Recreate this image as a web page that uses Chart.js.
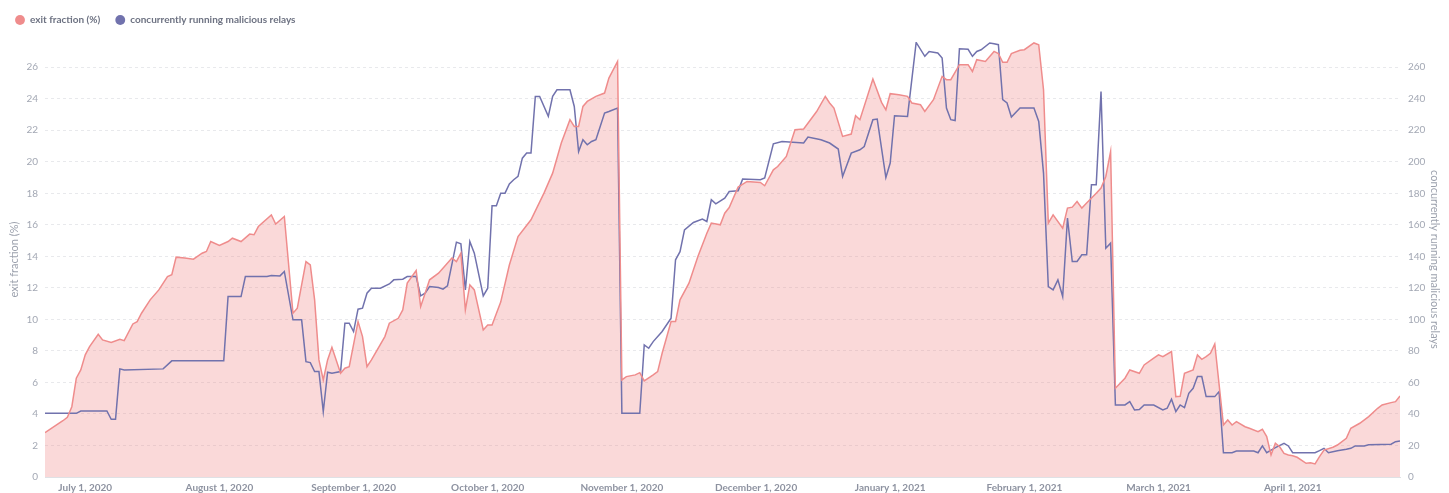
<!DOCTYPE html>
<html>
<head>
<meta charset="utf-8">
<script src="https://cdn.jsdelivr.net/npm/chart.js@4.4.1/dist/chart.umd.min.js"></script>
<style>
  html, body { margin: 0; padding: 0; background: #fff; }
</style>
</head>
<body>
<canvas id="chart" width="1449" height="493"></canvas>
<script>
// exit fraction (%) per day
const exitDates = [
  '2020-06-22', '2020-06-24', '2020-06-26', '2020-06-27', '2020-06-28', '2020-06-29', '2020-06-30',
  '2020-07-01', '2020-07-02', '2020-07-04', '2020-07-05', '2020-07-07', '2020-07-09', '2020-07-10',
  '2020-07-12', '2020-07-13', '2020-07-14', '2020-07-16', '2020-07-18', '2020-07-20', '2020-07-21',
  '2020-07-22', '2020-07-24', '2020-07-26', '2020-07-28', '2020-07-29', '2020-07-30', '2020-08-01',
  '2020-08-03', '2020-08-04', '2020-08-06', '2020-08-08', '2020-08-09', '2020-08-10', '2020-08-13',
  '2020-08-14', '2020-08-16', '2020-08-18', '2020-08-19', '2020-08-21', '2020-08-22', '2020-08-23',
  '2020-08-24', '2020-08-25', '2020-08-26', '2020-08-27', '2020-08-29', '2020-08-30', '2020-08-31',
  '2020-09-02', '2020-09-03', '2020-09-04', '2020-09-05', '2020-09-08', '2020-09-09', '2020-09-11',
  '2020-09-12', '2020-09-13', '2020-09-15', '2020-09-16', '2020-09-17', '2020-09-18', '2020-09-20',
  '2020-09-23', '2020-09-24', '2020-09-25', '2020-09-26', '2020-09-27', '2020-09-28', '2020-09-30',
  '2020-10-01', '2020-10-02', '2020-10-04', '2020-10-06', '2020-10-08', '2020-10-11', '2020-10-14',
  '2020-10-16', '2020-10-18', '2020-10-20', '2020-10-21', '2020-10-22', '2020-10-23', '2020-10-24',
  '2020-10-26', '2020-10-28', '2020-10-29', '2020-10-31', '2020-11-01', '2020-11-02', '2020-11-04',
  '2020-11-05', '2020-11-06', '2020-11-08', '2020-11-09', '2020-11-10', '2020-11-12', '2020-11-13',
  '2020-11-14', '2020-11-16', '2020-11-18', '2020-11-20', '2020-11-21', '2020-11-23', '2020-11-24',
  '2020-11-25', '2020-11-27', '2020-11-29', '2020-12-02', '2020-12-03', '2020-12-05', '2020-12-06',
  '2020-12-08', '2020-12-10', '2020-12-12', '2020-12-15', '2020-12-17', '2020-12-18', '2020-12-19',
  '2020-12-21', '2020-12-23', '2020-12-24', '2020-12-25', '2020-12-28', '2020-12-30', '2020-12-31',
  '2021-01-01', '2021-01-03', '2021-01-05', '2021-01-06', '2021-01-08', '2021-01-09', '2021-01-11',
  '2021-01-13', '2021-01-14', '2021-01-15', '2021-01-17', '2021-01-19', '2021-01-20', '2021-01-21',
  '2021-01-23', '2021-01-25', '2021-01-26', '2021-01-27', '2021-01-28', '2021-01-29', '2021-01-31',
  '2021-02-01', '2021-02-03', '2021-02-04', '2021-02-05', '2021-02-06', '2021-02-07', '2021-02-09',
  '2021-02-10', '2021-02-11', '2021-02-12', '2021-02-13', '2021-02-14', '2021-02-16', '2021-02-17',
  '2021-02-18', '2021-02-19', '2021-02-20', '2021-02-22', '2021-02-23', '2021-02-25', '2021-02-26',
  '2021-02-28', '2021-03-01', '2021-03-02', '2021-03-04', '2021-03-05', '2021-03-06', '2021-03-07',
  '2021-03-09', '2021-03-10', '2021-03-11', '2021-03-12', '2021-03-13', '2021-03-14', '2021-03-16',
  '2021-03-17', '2021-03-18', '2021-03-19', '2021-03-21', '2021-03-22', '2021-03-24', '2021-03-25',
  '2021-03-26', '2021-03-27', '2021-03-28', '2021-03-29', '2021-03-30', '2021-03-31', '2021-04-01',
  '2021-04-02', '2021-04-04', '2021-04-05', '2021-04-06', '2021-04-07', '2021-04-08', '2021-04-10',
  '2021-04-11', '2021-04-13', '2021-04-14', '2021-04-16', '2021-04-18', '2021-04-20', '2021-04-21',
  '2021-04-23', '2021-04-24', '2021-04-25'
];
const exitFraction = [
  2.81, 3.19, 3.57, 3.79, 4.46, 6.27, 6.79,
  7.75, 8.27, 9.06, 8.70, 8.53, 8.74, 8.65,
  9.71, 9.86, 10.39, 11.24, 11.87, 12.72, 12.83,
  13.95, 13.89, 13.82, 14.20, 14.31, 14.94, 14.69,
  14.94, 15.15, 14.94, 15.41, 15.37, 15.89, 16.63,
  16.05, 16.53, 10.39, 10.71, 13.67, 13.46, 11.24,
  7.43, 6.16, 7.43, 8.23, 6.58, 6.90, 7.00,
  9.86, 8.91, 7.00, 7.43, 8.91, 9.76, 10.07,
  10.60, 12.30, 13.10, 10.81, 11.66, 12.51, 12.93,
  13.89, 13.67, 14.20, 10.60, 12.19, 11.87, 9.33,
  9.65, 9.65, 11.10, 13.45, 15.26, 16.32, 18.01,
  19.28, 21.19, 22.67, 22.24, 22.24, 23.51, 23.83,
  24.15, 24.36, 25.31, 26.37, 6.16, 6.37, 6.48,
  6.62, 6.10, 6.48, 6.69, 7.85, 9.86, 9.86,
  11.24, 12.30, 13.99, 15.47, 16.11, 16.00, 16.74,
  17.10, 18.40, 18.75, 18.69, 18.48, 19.49, 19.70,
  20.34, 22.03, 22.08, 23.19, 24.15, 23.73, 23.41,
  21.61, 21.76, 22.92, 22.67, 25.25, 23.77, 23.30,
  24.32, 24.25, 24.15, 23.73, 23.62, 23.19, 23.94,
  25.42, 25.21, 25.21, 26.16, 26.16, 25.73, 26.48,
  26.37, 27.00, 26.86, 26.31, 26.31, 26.86, 27.07,
  27.11, 27.54, 27.43, 24.57, 16.11, 16.63, 15.79,
  17.06, 17.12, 17.48, 17.06, 17.38, 18.01, 18.33,
  19.07, 20.65, 5.63, 6.27, 6.79, 6.58, 7.11,
  7.54, 7.75, 7.64, 7.96, 5.10, 5.12, 6.58,
  6.80, 7.75, 7.47, 7.64, 7.85, 8.44, 3.30,
  3.62, 3.30, 3.51, 3.19, 3.09, 2.88, 3.03,
  2.56, 1.40, 2.14, 1.92, 1.50, 1.40, 1.35,
  1.25, 0.87, 0.91, 0.83, 1.29, 1.71, 1.89,
  2.03, 2.46, 3.09, 3.41, 3.83, 4.36, 4.57,
  4.72, 4.78, 5.14
];

// concurrently running malicious relays
const relayDates = [
  '2020-06-22', '2020-06-29', '2020-06-30', '2020-07-06', '2020-07-07', '2020-07-08', '2020-07-09',
  '2020-07-10', '2020-07-19', '2020-07-21', '2020-08-02', '2020-08-03', '2020-08-06', '2020-08-07',
  '2020-08-12', '2020-08-13', '2020-08-15', '2020-08-16', '2020-08-18', '2020-08-20', '2020-08-21',
  '2020-08-22', '2020-08-23', '2020-08-24', '2020-08-25', '2020-08-26', '2020-08-27', '2020-08-29',
  '2020-08-30', '2020-08-31', '2020-09-01', '2020-09-02', '2020-09-03', '2020-09-04', '2020-09-05',
  '2020-09-07', '2020-09-09', '2020-09-10', '2020-09-12', '2020-09-13', '2020-09-15', '2020-09-16',
  '2020-09-17', '2020-09-18', '2020-09-20', '2020-09-21', '2020-09-22', '2020-09-24', '2020-09-25',
  '2020-09-26', '2020-09-27', '2020-09-28', '2020-09-30', '2020-10-01', '2020-10-02', '2020-10-03',
  '2020-10-04', '2020-10-05', '2020-10-06', '2020-10-07', '2020-10-08', '2020-10-09', '2020-10-10',
  '2020-10-11', '2020-10-12', '2020-10-13', '2020-10-15', '2020-10-16', '2020-10-17', '2020-10-20',
  '2020-10-21', '2020-10-22', '2020-10-23', '2020-10-24', '2020-10-25', '2020-10-26', '2020-10-28',
  '2020-10-29', '2020-10-31', '2020-11-01', '2020-11-05', '2020-11-06', '2020-11-07', '2020-11-08',
  '2020-11-10', '2020-11-12', '2020-11-13', '2020-11-14', '2020-11-15', '2020-11-17', '2020-11-19',
  '2020-11-20', '2020-11-21', '2020-11-22', '2020-11-24', '2020-11-25', '2020-11-27', '2020-11-28',
  '2020-12-02', '2020-12-03', '2020-12-05', '2020-12-07', '2020-12-12', '2020-12-13', '2020-12-16',
  '2020-12-18', '2020-12-20', '2020-12-21', '2020-12-23', '2020-12-25', '2020-12-26', '2020-12-28',
  '2020-12-29', '2020-12-31', '2021-01-01', '2021-01-02', '2021-01-05', '2021-01-07', '2021-01-09',
  '2021-01-10', '2021-01-12', '2021-01-13', '2021-01-14', '2021-01-15', '2021-01-16', '2021-01-17',
  '2021-01-19', '2021-01-20', '2021-01-21', '2021-01-22', '2021-01-24', '2021-01-25', '2021-01-26',
  '2021-01-27', '2021-01-28', '2021-01-29', '2021-01-31', '2021-02-03', '2021-02-04', '2021-02-05',
  '2021-02-06', '2021-02-07', '2021-02-08', '2021-02-09', '2021-02-10', '2021-02-11', '2021-02-12',
  '2021-02-13', '2021-02-14', '2021-02-15', '2021-02-16', '2021-02-17', '2021-02-18', '2021-02-19',
  '2021-02-20', '2021-02-22', '2021-02-23', '2021-02-24', '2021-02-25', '2021-02-26', '2021-02-28',
  '2021-03-02', '2021-03-03', '2021-03-04', '2021-03-05', '2021-03-06', '2021-03-07', '2021-03-08',
  '2021-03-09', '2021-03-10', '2021-03-11', '2021-03-12', '2021-03-14', '2021-03-15', '2021-03-16',
  '2021-03-18', '2021-03-19', '2021-03-23', '2021-03-24', '2021-03-25', '2021-03-26', '2021-03-27',
  '2021-03-28', '2021-03-30', '2021-03-31', '2021-04-01', '2021-04-06', '2021-04-07', '2021-04-08',
  '2021-04-09', '2021-04-11', '2021-04-13', '2021-04-14', '2021-04-15', '2021-04-17', '2021-04-18',
  '2021-04-23', '2021-04-24', '2021-04-25'
];
const maliciousRelays = [
  40.4, 40.4, 41.9, 41.9, 36.6, 36.6, 68.6,
  67.9, 68.6, 73.7, 73.7, 114.5, 114.5, 127.2,
  127.2, 127.8, 127.6, 130.4, 99.7, 99.7, 73.2,
  72.6, 66.9, 66.9, 41.5, 66.5, 65.8, 66.9,
  97.6, 97.6, 92.3, 106.5, 107.1, 116.6, 119.8,
  119.8, 122.5, 125.1, 125.5, 127.2, 127.2, 114.9,
  116.6, 120.8, 120.2, 119.2, 121.3, 149.0, 147.9,
  118.7, 149.4, 142.0, 114.9, 119.8, 172.1, 172.1,
  180.1, 180.1, 186.0, 188.6, 190.7, 202.3, 205.5,
  205.5, 241.5, 241.5, 228.8, 241.5, 245.7, 245.7,
  235.1, 206.5, 214.0, 210.8, 212.9, 214.0, 230.9,
  231.9, 234.1, 40.4, 40.4, 83.8, 81.7, 85.9,
  92.3, 100.8, 137.8, 143.0, 156.8, 161.5, 163.6,
  162.1, 175.9, 173.3, 176.9, 181.1, 181.6, 189.0,
  188.6, 189.7, 211.4, 212.9, 211.9, 215.7, 214.0,
  211.9, 208.1, 190.7, 205.5, 207.6, 209.7, 226.7,
  227.1, 190.0, 199.2, 229.2, 228.8, 275.7, 266.9,
  270.0, 269.0, 265.8, 234.1, 226.7, 226.2, 271.7,
  271.4, 266.9, 270.0, 271.1, 275.4, 274.9, 274.3,
  239.4, 237.3, 228.4, 234.1, 234.1, 225.6, 192.8,
  120.8, 118.7, 125.1, 114.5, 164.3, 136.7, 136.7,
  141.0, 141.0, 185.4, 185.4, 244.6, 145.2, 148.4,
  45.7, 45.7, 47.8, 42.5, 42.8, 45.7, 45.7,
  42.5, 43.6, 49.3, 41.5, 45.7, 44.0, 53.1,
  56.3, 63.7, 63.7, 51.0, 51.0, 54.2, 15.4,
  15.4, 16.5, 16.5, 15.4, 19.7, 15.4, 17.1,
  18.6, 21.4, 19.7, 15.4, 15.4, 16.7, 18.2,
  15.4, 16.7, 17.6, 18.2, 19.7, 19.7, 20.5,
  20.8, 22.4, 22.9
];

// x axis ticks (one per month)
const tickDates = [
  '2020-07-01', '2020-08-01', '2020-09-01', '2020-10-01', '2020-11-01',
  '2020-12-01', '2021-01-01', '2021-02-01', '2021-03-01', '2021-04-01'
];
const tickLabels = [
  'July 1, 2020', 'August 1, 2020', 'September 1, 2020', 'October 1, 2020', 'November 1, 2020',
  'December 1, 2020', 'January 1, 2021', 'February 1, 2021', 'March 1, 2021', 'April 1, 2021'
];

const RED = '#EF8C8C';
const BLUE = '#7172AD';

// months are spaced evenly on the axis, days split each month
function datePos(s) {
  const [y, m, d] = s.split('-').map(Number);
  const daysInMonth = new Date(y, m, 0).getDate();
  return (y - 2020) * 12 + (m - 7) + (d - 1) / daysInMonth;
}

function toPoints(dates, values) {
  return dates.map((d, i) => ({ x: datePos(d), y: values[i] }));
}

// fixed height for the legend strip above the plot
const legendHeight = {
  id: 'legendHeight',
  beforeInit(chart) {
    const fit = chart.legend.fit;
    chart.legend.fit = function () {
      fit.call(this);
      this.height = 42;
    };
  }
};

Chart.defaults.font.family = 'Lato, "Open Sans", sans-serif';

new Chart(document.getElementById('chart'), {
  type: 'line',
  data: {
    datasets: [{
      label: 'exit fraction (%)',
      data: toPoints(exitDates, exitFraction),
      yAxisID: 'y',
      borderColor: RED,
      backgroundColor: 'rgba(239, 140, 140, 0.33)',
      borderWidth: 1.5,
      fill: 'origin',
      pointRadius: 0,
      tension: 0
    }, {
      label: 'concurrently running malicious relays',
      data: toPoints(relayDates, maliciousRelays),
      yAxisID: 'y1',
      borderColor: BLUE,
      backgroundColor: BLUE,
      borderWidth: 1.5,
      fill: false,
      pointRadius: 0,
      tension: 0
    }]
  },
  options: {
    responsive: false,
    animation: false,
    layout: { padding: 0 },
    plugins: {
      filler: { drawTime: 'beforeDatasetsDraw' },
      tooltip: { enabled: false },
      legend: {
        position: 'top',
        align: 'start',
        labels: {
          usePointStyle: true,
          pointStyle: 'circle',
          boxWidth: 10,
          boxHeight: 7,
          padding: 15,
          color: '#6d7282',
          font: { size: 10, weight: 'bold' },
          generateLabels: chart => Chart.defaults.plugins.legend.labels.generateLabels(chart)
            .map(l => ({ ...l, fillStyle: l.strokeStyle, lineWidth: 0 }))
        }
      }
    },
    scales: {
      x: {
        type: 'linear',
        min: datePos('2020-06-22'),
        max: datePos('2021-04-25'),
        grid: { display: false, drawTicks: false },
        border: { display: true, color: '#dfe1e5', width: 1 },
        afterBuildTicks: s => { s.ticks = tickDates.map(d => ({ value: datePos(d) })); },
        afterFit: s => { s.height = 16; },
        ticks: {
          autoSkip: false,
          maxRotation: 0,
          padding: 5,
          color: '#8d92a0',
          font: { size: 10, weight: 'bold' },
          callback: (v, i) => tickLabels[i]
        }
      },
      y: {
        position: 'left',
        min: 0,
        max: 27.6,
        afterFit: s => { s.width = 45; },
        grid: { color: '#e8e9ec', drawTicks: false },
        border: { display: false, dash: [3, 3] },
        ticks: {
          stepSize: 2,
          includeBounds: false,
          padding: 7,
          color: '#a3a8b4',
          font: { size: 10 }
        },
        title: {
          display: true,
          text: 'exit fraction (%)',
          color: '#9ca1ad',
          font: { size: 11 },
          padding: { top: 8, bottom: 0 }
        }
      },
      y1: {
        position: 'right',
        min: 0,
        max: 276,
        afterFit: s => { s.width = 49; },
        grid: { display: false, drawTicks: false },
        border: { display: false },
        ticks: {
          stepSize: 20,
          includeBounds: false,
          padding: 8,
          color: '#a3a8b4',
          font: { size: 10 }
        },
        title: {
          display: true,
          text: 'concurrently running malicious relays',
          color: '#9ca1ad',
          font: { size: 11 },
          padding: { top: 8, bottom: 0 }
        }
      }
    }
  },
  plugins: [legendHeight]
});
</script>
</body>
</html>
